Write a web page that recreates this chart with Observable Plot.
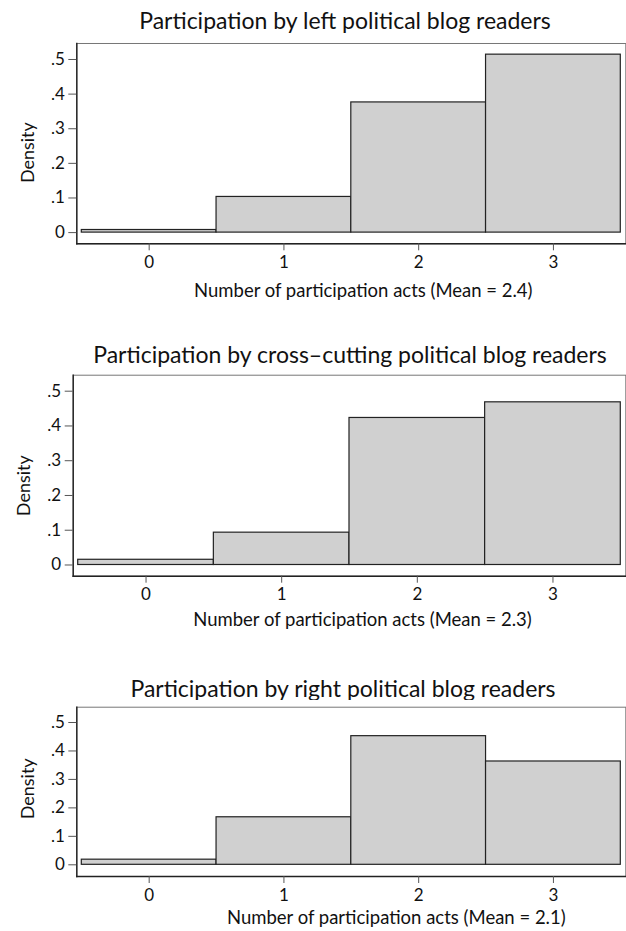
<!DOCTYPE html>
<html>
<head>
<meta charset="utf-8">
<script src="https://cdn.jsdelivr.net/npm/d3@7"></script>
<script src="https://cdn.jsdelivr.net/npm/@observablehq/plot@0.6"></script>
<style>
  html, body { margin: 0; padding: 0; background: #fff; }
  body { width: 626px; height: 931px; position: relative; overflow: hidden; font-family: Lato, "Open Sans", sans-serif; }
  .title { position: absolute; white-space: nowrap; font-size: 23px; color: #111; transform: translate(-50%, -50%); line-height: 1; }
  .panel { position: absolute; left: 0; }
</style>
</head>
<body>
<script>
// ---- data ----
const categories = [0, 1, 2, 3];
const leftValues  = [0.0075, 0.103, 0.376, 0.514];
const crossValues = [0.015, 0.093, 0.423, 0.468];
const rightValues = [0.018, 0.167, 0.452, 0.363];
const panelTitles = [
  "Participation by left political blog readers",
  "Participation by cross\u2013cutting political blog readers",
  "Participation by right political blog readers"
];
const xAxisTitles = [
  "Number of participation acts (Mean = 2.4)",
  "Number of participation acts (Mean = 2.3)",
  "Number of participation acts (Mean = 2.1)"
];
const yAxisTitle = "Density";
const xTicks = [0, 1, 2, 3];
const yTicks = [0, 0.1, 0.2, 0.3, 0.4, 0.5];

// ---- layout (pixels) ----
const layout = [
  {titleX: 345, titleY: 20, svgTop: 36, frameTop: 43, frameBottom: 243.3, frameLeft: 76.3, xTitleDx: 12, xTitleDy: 47, yTitleDy: 9},
  {titleX: 350, titleY: 354, svgTop: 368, frameTop: 374.7, frameBottom: 575.7, frameLeft: 72.7, xTitleDx: 13, xTitleDy: 44, yTitleDy: 10},
  {titleX: 343, titleY: 688, svgTop: 700, frameTop: 706.7, frameBottom: 876, frameLeft: 76.3, xTitleDx: 45, xTitleDy: 42, yTitleDy: -3}
];
const frameRight = 625.3;

const series = [leftValues, crossValues, rightValues];
const fmtY = d => d === 0 ? "0" : d3.format(".1f")(d).replace(/^0/, "");

series.forEach((vals, i) => {
  const L = layout[i];
  const data = categories.map((k, j) => ({k, v: vals[j]}));
  const marginTop = L.frameTop - L.svgTop;
  const marginBottom = 60;
  const height = marginTop + (L.frameBottom - L.frameTop) + marginBottom;
  const insetTop = i === 2 ? 15.3 : 16;
  const insetBottom = i === 2 ? 11.7 : 11.2;

  const chart = Plot.plot({
    width: 626,
    height,
    marginTop,
    marginBottom,
    marginLeft: L.frameLeft,
    marginRight: 626 - frameRight,
    x: {domain: [-0.5, 3.5], insetLeft: 5, insetRight: 5},
    y: {domain: [0, 0.5], insetTop, insetBottom},
    style: {fontFamily: "Lato, 'Open Sans', sans-serif", fontSize: "17px", color: "#111", background: "#fff", overflow: "visible"},
    marks: [
      Plot.rect(data, {x1: d => d.k - 0.5, x2: d => d.k + 0.5, y1: 0, y2: "v", fill: "#d0d0d0", stroke: "#222", strokeWidth: 1.2}),
      Plot.frame({stroke: "#777", strokeWidth: 1}),
      Plot.frame({anchor: "left", stroke: "#222", strokeWidth: 1.4}),
      Plot.frame({anchor: "bottom", stroke: "#222", strokeWidth: 1.4}),
      Plot.axisX({ticks: xTicks, tickSize: 7, tickPadding: 5, tickFormat: d => String(d), label: null, stroke: "#555", fontSize: 17}),
      Plot.axisY({ticks: yTicks, tickSize: 8, tickPadding: 4, tickFormat: fmtY, label: null, stroke: "#555", fontSize: 17}),
      Plot.text([xAxisTitles[i]], {frameAnchor: "bottom", textAnchor: "middle", lineAnchor: "middle", dx: L.xTitleDx, dy: L.xTitleDy, fontSize: 18.5, fill: "#111"}),
      Plot.text([yAxisTitle], {frameAnchor: "left", textAnchor: "middle", lineAnchor: "middle", rotate: -90, dx: -49, dy: L.yTitleDy, fontSize: 18, fill: "#111"})
    ]
  });

  const title = document.createElement("div");
  title.className = "title";
  title.style.left = L.titleX + "px";
  title.style.top = L.titleY + "px";
  title.textContent = panelTitles[i];
  document.body.appendChild(title);

  const wrap = document.createElement("div");
  wrap.className = "panel";
  wrap.style.top = L.svgTop + "px";
  wrap.appendChild(chart);
  document.body.appendChild(wrap);
});
</script>
</body>
</html>
